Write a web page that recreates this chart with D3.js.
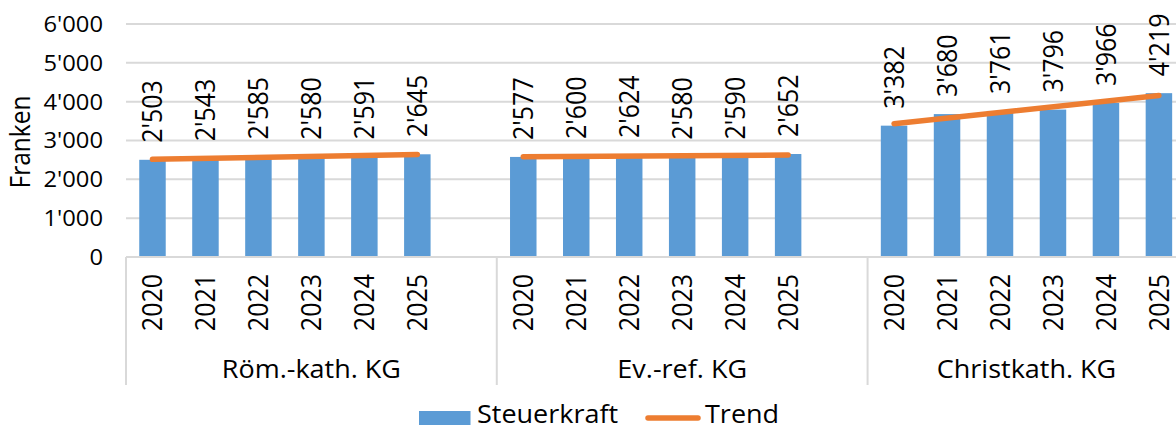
<!DOCTYPE html>
<html>
<head>
<meta charset="utf-8">
<script src="https://cdn.jsdelivr.net/npm/d3@7"></script>
<style>
  html, body { margin: 0; padding: 0; background: #fff; }
  svg { display: block; }
  text { font-family: "Open Sans", "Noto Sans", sans-serif; fill: #000; }
</style>
</head>
<body>
<div id="chart"></div>
<script>
// data
var groups = ["Röm.-kath. KG", "Ev.-ref. KG", "Christkath. KG"];
var years = ["2020", "2021", "2022", "2023", "2024", "2025"];
var roemKath = [2503, 2543, 2585, 2580, 2591, 2645];
var evRef = [2577, 2600, 2624, 2580, 2590, 2652];
var christKath = [3382, 3680, 3761, 3796, 3966, 4219];
var trendStart = [2515, 2583, 3432];
var trendEnd = [2638, 2626, 4160];
var yTicks = [0, 1000, 2000, 3000, 4000, 5000, 6000];

var series = [roemKath, evRef, christKath];

var width = 1176, height = 430;
var sx = 1.08; // text in the original is a bit wider than tall

var fmt = d3.formatLocale({ decimal: ".", thousands: "'", grouping: [3], currency: ["", ""] }).format(",");

var svg = d3.select("#chart").append("svg")
	.attr("width", width)
	.attr("height", height);

// slots: 6 years per group, an empty slot between groups
var slots = [];
groups.forEach(function(g, gi) {
	years.forEach(function(y) { slots.push(gi + "-" + y); });
	if (gi < groups.length - 1) slots.push(gi + "-gap");
});

var x = d3.scaleBand().domain(slots).range([126, 1185.4]).paddingInner(0).paddingOuter(0);
var y = d3.scaleLinear().domain([0, 6000]).range([257, 24]);

var bw = x.bandwidth() * 0.5;
var cx = function(gi, yr) { return x(gi + "-" + yr) + x.bandwidth() / 2; };
var groupStart = function(gi) { return x(gi + "-" + years[0]); };
var groupEnd = function(gi) {
	return gi < groups.length - 1 ? x((gi + 1) + "-" + years[0]) : x.range()[1];
};

// gridlines
svg.append("g").selectAll("line").data(yTicks.filter(function(d) { return d > 0; }))
	.enter().append("line")
	.attr("x1", 126).attr("x2", x.range()[1])
	.attr("y1", function(d) { return y(d); }).attr("y2", function(d) { return y(d); })
	.attr("stroke", "#d9d9d9").attr("stroke-width", 2);

// y tick labels
svg.append("g").selectAll("text").data(yTicks)
	.enter().append("text")
	.attr("transform", function(d) { return "translate(103," + y(d) + ") scale(" + sx + ",1)"; })
	.attr("text-anchor", "end")
	.attr("dy", "0.36em")
	.style("font-size", "22px")
	.text(function(d) { return fmt(d); });

// axis title
svg.append("text")
	.attr("transform", "translate(30,142) scale(" + sx + ",1) rotate(-90)")
	.attr("text-anchor", "middle")
	.style("font-size", "24.5px")
	.text("Franken");

// bars
var barData = [];
series.forEach(function(vals, gi) {
	vals.forEach(function(v, i) { barData.push({ g: gi, year: years[i], value: v }); });
});

svg.append("g").selectAll("rect").data(barData)
	.enter().append("rect")
	.attr("x", function(d) { return cx(d.g, d.year) - bw / 2; })
	.attr("width", bw)
	.attr("y", function(d) { return y(d.value); })
	.attr("height", function(d) { return y(0) - y(d.value); })
	.attr("fill", "#5b9bd5");

// trend lines
svg.append("g").selectAll("line").data(groups)
	.enter().append("line")
	.attr("x1", function(d, gi) { return cx(gi, years[0]); })
	.attr("x2", function(d, gi) { return cx(gi, years[years.length - 1]); })
	.attr("y1", function(d, gi) { return y(trendStart[gi]); })
	.attr("y2", function(d, gi) { return y(trendEnd[gi]); })
	.attr("stroke", "#ed7d31").attr("stroke-width", 5.5)
	.attr("stroke-linecap", "round");

// data labels
svg.append("g").selectAll("text").data(barData)
	.enter().append("text")
	.attr("transform", function(d) {
		return "translate(" + cx(d.g, d.year) + "," + (y(d.value) - 17) + ") scale(" + sx + ",1) rotate(-90)";
	})
	.attr("dy", "0.36em")
	.style("font-size", "25px")
	.text(function(d) { return fmt(d.value); });

// category axis
svg.append("line")
	.attr("x1", 126).attr("x2", x.range()[1])
	.attr("y1", y(0)).attr("y2", y(0))
	.attr("stroke", "#d9d9d9").attr("stroke-width", 2);

var seps = groups.map(function(d, gi) { return groupStart(gi); }).concat([x.range()[1]]);
svg.append("g").selectAll("line").data(seps)
	.enter().append("line")
	.attr("x1", function(d) { return d; }).attr("x2", function(d) { return d; })
	.attr("y1", y(0)).attr("y2", 385)
	.attr("stroke", "#d9d9d9").attr("stroke-width", 2);

svg.append("g").selectAll("text").data(barData)
	.enter().append("text")
	.attr("transform", function(d) {
		return "translate(" + cx(d.g, d.year) + ",274) scale(" + sx + ",1) rotate(-90)";
	})
	.attr("text-anchor", "end")
	.attr("dy", "0.36em")
	.style("font-size", "25px")
	.text(function(d) { return d.year; });

svg.append("g").selectAll("text").data(groups)
	.enter().append("text")
	.attr("transform", function(d, gi) {
		return "translate(" + (groupStart(gi) + groupEnd(gi)) / 2 + ",377.5) scale(" + sx + ",1)";
	})
	.attr("text-anchor", "middle")
	.style("font-size", "25px")
	.text(function(d) { return d; });

// legend, kept just inside the bottom edge
var legend = svg.append("g");
legend.append("rect")
	.attr("x", 419).attr("y", 411).attr("width", 51.5).attr("height", 14)
	.attr("fill", "#5b9bd5");
legend.append("text")
	.attr("transform", "translate(477,422.5) scale(" + sx + ",1)")
	.style("font-size", "25px")
	.text("Steuerkraft");
legend.append("line")
	.attr("x1", 648).attr("x2", 698).attr("y1", 418).attr("y2", 418)
	.attr("stroke", "#ed7d31").attr("stroke-width", 5.5)
	.attr("stroke-linecap", "round");
legend.append("text")
	.attr("transform", "translate(705,422.5) scale(" + sx + ",1)")
	.style("font-size", "25px")
	.text("Trend");
</script>
</body>
</html>
